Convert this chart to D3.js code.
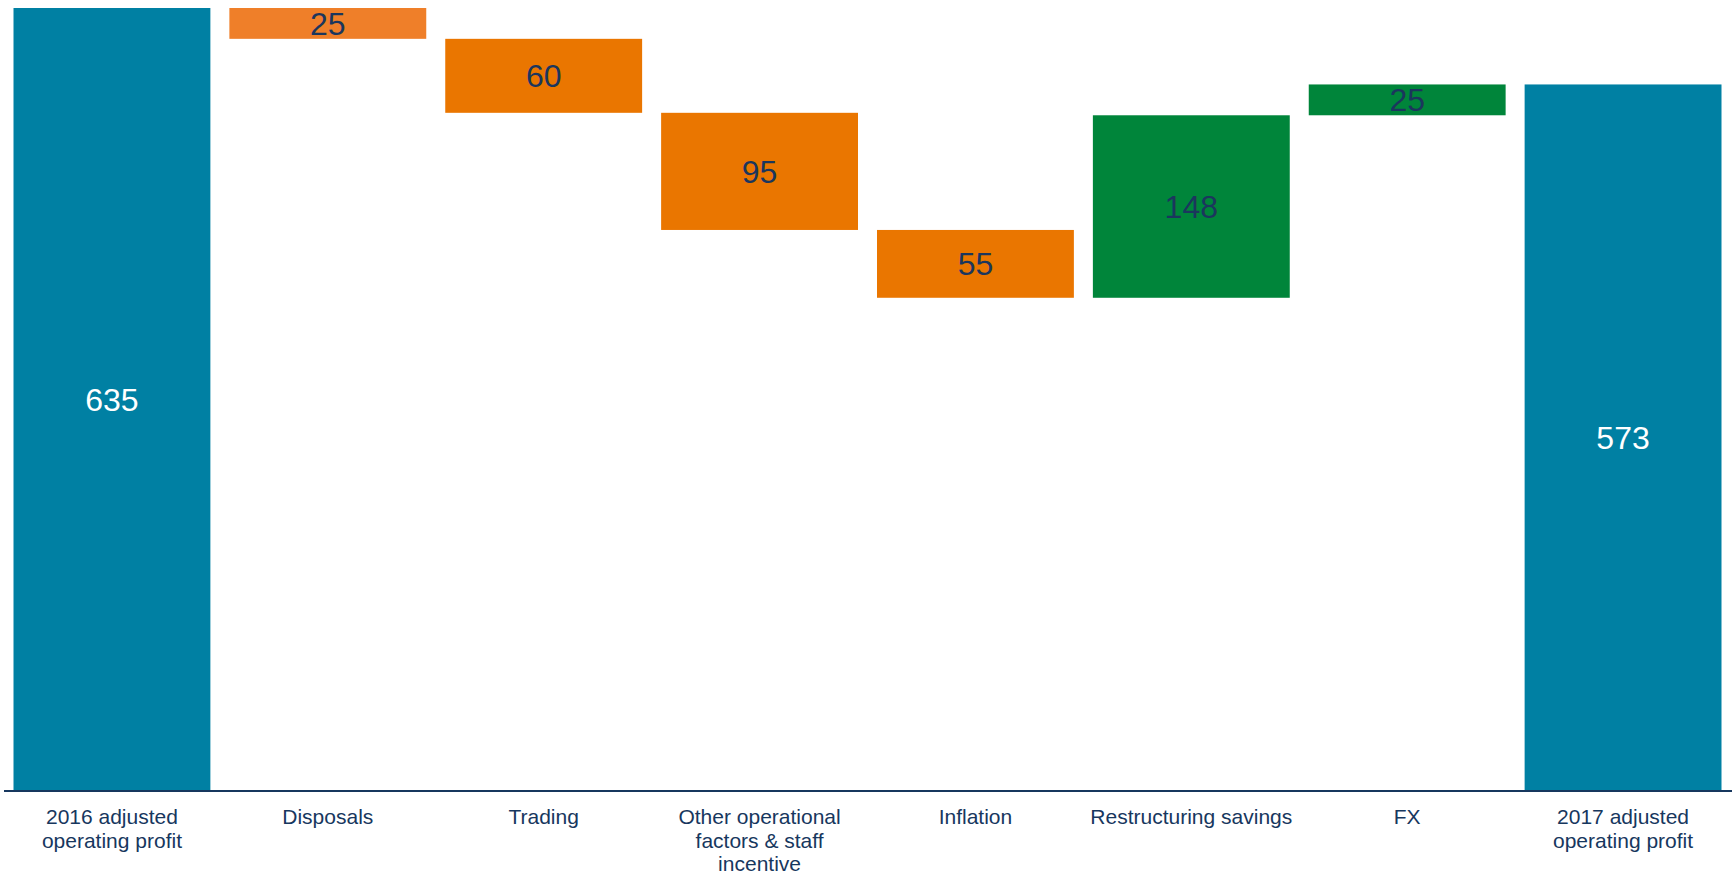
<!DOCTYPE html>
<html>
<head>
<meta charset="utf-8">
<script src="https://cdn.jsdelivr.net/npm/d3@7"></script>
<style>
  body { margin: 0; background: #fff; }
  svg { display: block; font-family: "Liberation Sans", Arial, sans-serif; }
</style>
</head>
<body>
<div id="chart"></div>
<script>
const categories = [
    ["2016 adjusted", "operating profit"],
    ["Disposals"],
    ["Trading"],
    ["Other operational", "factors & staff", "incentive"],
    ["Inflation"],
    ["Restructuring savings"],
    ["FX"],
    ["2017 adjusted", "operating profit"]
];
const values = [635, -25, -60, -95, -55, 148, 25, 573];
const kinds = ["total", "down1", "down", "down", "down", "up", "up", "total"];

const width = 1732, height = 876;
const baseY = 791, topY = 8;

const colors = {
    total: "#0080A3",
    down1: "#EF7F29",
    down: "#EA7600",
    up: "#00853A"
};

// running totals for the waterfall
var running = 0;
const steps = values.map(function(v, i) {
    var start, end;
    if (kinds[i] == "total") {
        start = 0; end = v; running = v;
    } else {
        start = running; end = running + v; running = end;
    }
    return {i: i, value: v, kind: kinds[i], lo: Math.min(start, end), hi: Math.max(start, end)};
});

const svg = d3.select("#chart")
    .append("svg")
    .attr("width", width)
    .attr("height", height);

const x = d3.scaleBand()
    .domain(d3.range(categories.length))
    .range([4, 1731])
    .paddingInner(0.088)
    .paddingOuter(0.044);

const y = d3.scaleLinear()
    .domain([0, 635])
    .range([baseY, topY]);

svg.selectAll(".bar")
    .data(steps)
    .enter().append("rect")
    .attr("class", "bar")
    .attr("x", d => x(d.i))
    .attr("width", x.bandwidth())
    .attr("y", d => y(d.hi))
    .attr("height", d => y(d.lo) - y(d.hi))
    .style("fill", d => colors[d.kind]);

svg.selectAll(".val")
    .data(steps)
    .enter().append("text")
    .attr("class", "val")
    .attr("x", d => x(d.i) + x.bandwidth() / 2)
    .attr("y", d => (y(d.hi) + y(d.lo)) / 2)
    .attr("dy", "0.36em")
    .attr("text-anchor", "middle")
    .style("font-size", "32px")
    .style("fill", d => d.kind == "total" ? "#ffffff" : "#1B365D")
    .text(d => Math.abs(d.value));

// axis along the baseline, line runs to the right edge
const axis = svg.append("g")
    .attr("transform", `translate(0, ${baseY})`)
    .call(d3.axisBottom(x).tickSize(0).tickFormat(""));
axis.select(".domain")
    .attr("d", `M${x.range()[0]},0H${width}`)
    .attr("stroke", "#17375E")
    .attr("stroke-width", 2);

const labels = svg.selectAll(".cat")
    .data(categories)
    .enter().append("text")
    .attr("class", "cat")
    .attr("text-anchor", "middle")
    .style("font-size", "21px")
    .style("fill", "#17375E");

labels.each(function(lines, i) {
    d3.select(this).selectAll("tspan")
        .data(lines)
        .enter().append("tspan")
        .attr("x", x(i) + x.bandwidth() / 2)
        .attr("y", (d, j) => 824 + j * 23.5)
        .text(d => d);
});
</script>
</body>
</html>
